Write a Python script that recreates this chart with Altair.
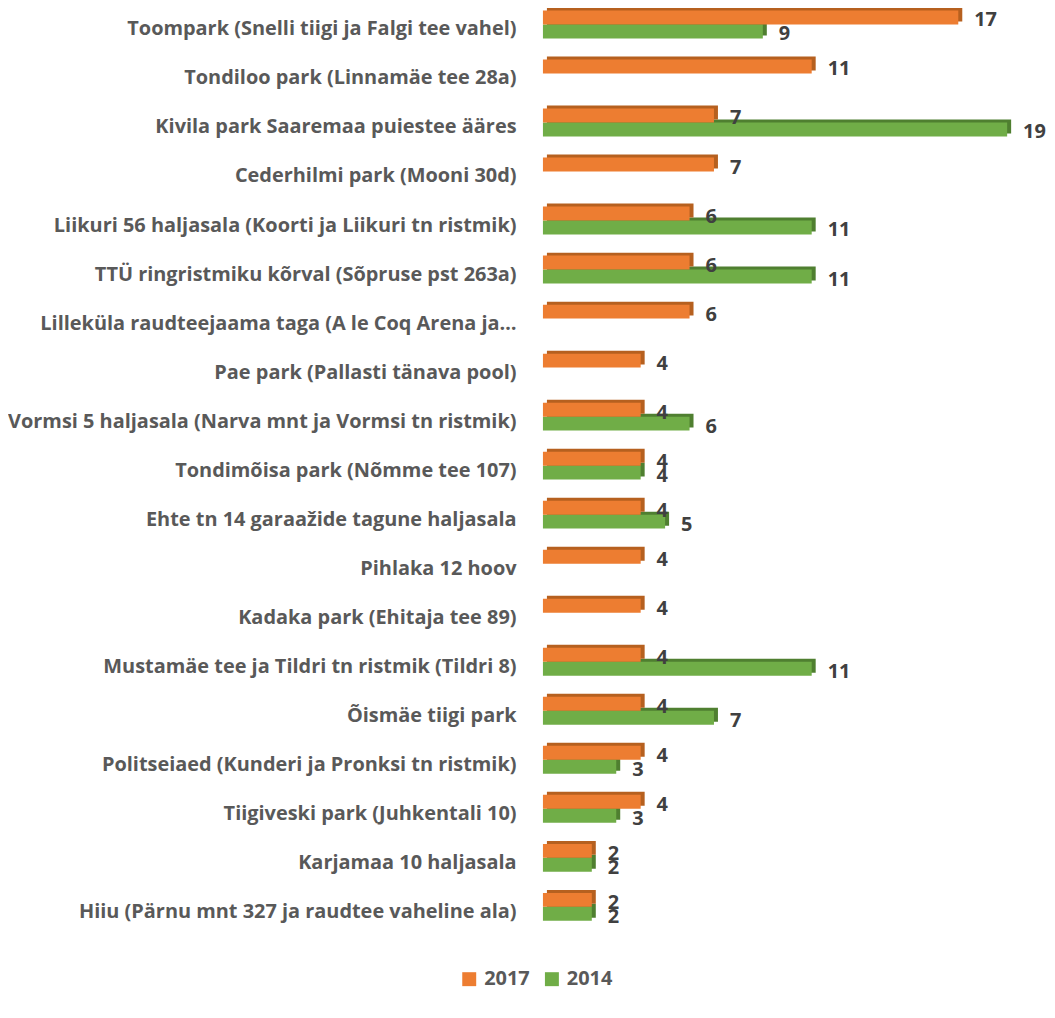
import altair as alt
import pandas as pd

categories = [
    "Toompark (Snelli tiigi ja Falgi tee vahel)",
    "Tondiloo park (Linnamäe tee 28a)",
    "Kivila park Saaremaa puiestee ääres",
    "Cederhilmi park (Mooni 30d)",
    "Liikuri 56 haljasala (Koorti ja Liikuri tn ristmik)",
    "TTÜ ringristmiku kõrval (Sõpruse pst 263a)",
    "Lilleküla raudteejaama taga (A le Coq Arena ja…",
    "Pae park (Pallasti tänava pool)",
    "Vormsi 5 haljasala (Narva mnt ja Vormsi tn ristmik)",
    "Tondimõisa park (Nõmme tee 107)",
    "Ehte tn 14 garaažide tagune haljasala",
    "Pihlaka 12 hoov",
    "Kadaka park (Ehitaja tee 89)",
    "Mustamäe tee ja Tildri tn ristmik (Tildri 8)",
    "Õismäe tiigi park",
    "Politseiaed (Kunderi ja Pronksi tn ristmik)",
    "Tiigiveski park (Juhkentali 10)",
    "Karjamaa 10 haljasala",
    "Hiiu (Pärnu mnt 327 ja raudtee vaheline ala)",
]
values_2017 = [17, 11, 7, 7, 6, 6, 6, 4, 4, 4, 4, 4, 4, 4, 4, 4, 4, 2, 2]
values_2014 = [9, None, 19, None, 11, 11, None, None, 6, 4, 5, None, None, 11, 7, 3, 3, 2, 2]
years = ["2017", "2014"]
colors = ["#ED7D31", "#70AD47"]
shadow_colors = ["#B6601F", "#4F7F30"]

rows = []
for c, a, b in zip(categories, values_2017, values_2014):
    rows.append({"place": c, "year": "2017", "value": a})
    if b is not None:
        rows.append({"place": c, "year": "2014", "value": b})
df = pd.DataFrame(rows)

FONT = "Open Sans"
STEP_SHIFT = -10
BAR_H = 14

y_enc = alt.Y(
    "place:N",
    sort=categories,
    scale=alt.Scale(paddingInner=0, paddingOuter=0),
    axis=alt.Axis(
        title=None, domain=False, ticks=False, grid=False,
        labelPadding=27, labelLimit=0, labelFont=FONT, labelFontSize=20,
        labelFontWeight="bold", labelColor="#595959", labelOffset=-5,
    ),
)
x_enc = alt.X("value:Q", scale=alt.Scale(domain=[0, 19], nice=False, zero=True), axis=None)
color_enc = alt.Color(
    "year:N",
    scale=alt.Scale(domain=years, range=colors),
    legend=alt.Legend(
        title=None, orient="none", legendX=-84, legendY=963, direction="horizontal",
        symbolType="square", symbolSize=196, symbolStrokeWidth=0,
        labelFont=FONT, labelFontSize=20, labelFontWeight="bold", labelColor="#595959",
        columnPadding=12, labelOffset=5,
    ),
)

base = alt.Chart(df)
layers = []
offsets = {"2017": STEP_SHIFT - BAR_H / 2, "2014": STEP_SHIFT + BAR_H / 2}
text_offsets = {"2017": -14, "2014": 0}
for yr in ["2014", "2017"]:
    i = years.index(yr)
    sub = base.transform_filter(alt.datum.year == yr)
    layers.append(
        sub.mark_bar(height=BAR_H, yOffset=offsets[yr] - 3, xOffset=4, x2Offset=4,
                     color=shadow_colors[i]).encode(x=x_enc, y=y_enc)
    )
    layers.append(
        sub.mark_bar(height=BAR_H, yOffset=offsets[yr]).encode(x=x_enc, y=y_enc, color=color_enc)
    )
for yr in ["2014", "2017"]:
    sub = base.transform_filter(alt.datum.year == yr)
    layers.append(
        sub.mark_text(align="left", baseline="middle", dx=16, yOffset=text_offsets[yr],
                      font=FONT, fontSize=20, fontWeight="bold", color="#404040")
        .encode(x=x_enc, y=y_enc, text="value:Q")
    )

chart = alt.layer(*layers).properties(
    width=466,
    height=935,
    padding={"left": 537, "top": 0, "right": 40, "bottom": 60},
    autosize=alt.AutoSizeParams(type="none"),
).configure_view(stroke=None)

chart.save("out.html", embed_options={"renderer": "svg", "actions": False})
